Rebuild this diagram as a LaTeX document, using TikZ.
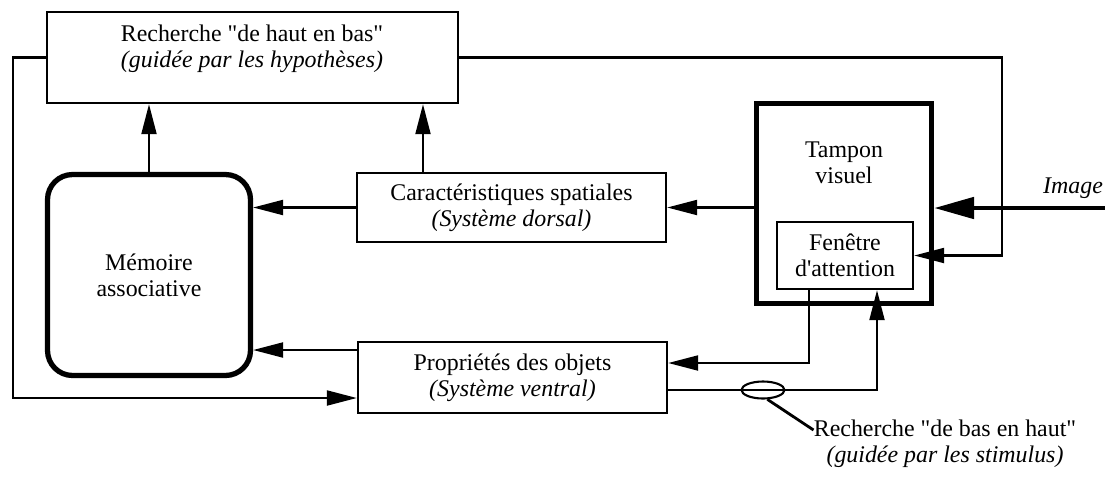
\documentclass[tikz,border=0pt]{standalone}
\usepackage{fontspec}
\setmainfont{Liberation Serif}
\usetikzlibrary{arrows.meta,calc,shapes.geometric}
\tikzset{
  box/.style={draw, line width=1.4pt, inner sep=0pt, align=center},
  bigbox/.style={draw, line width=3pt, inner sep=0pt, align=center},
  arr/.style={line width=1.2pt, -{Triangle[length=0.6cm,width=0.3cm]}},
  bigarr/.style={line width=2.8pt, -{Triangle[length=0.8cm,width=0.42cm]}},
  thin/.style={line width=1.2pt},
}
\begin{document}
\begin{tikzpicture}[x=0.02cm, y=-0.02cm, font=\fontsize{13.6}{14.8}\selectfont]
\useasboundingbox (0,0) rectangle (1105,481);
\node[box, minimum width=8.22cm, minimum height=1.82cm] (haut) at (252.5,57.5) {};
\node[align=center] (hautlbl) at (252,49) {Recherche \textquotedbl de haut en bas\textquotedbl\\\textit{(guidée par les hypothèses)}};
\node[bigbox, rounded corners=0.5cm, minimum width=4.06cm, minimum height=4.02cm] (memoire) at (149,275) {Mémoire\\associative};
\node[box, minimum width=6.18cm, minimum height=1.38cm] (carac) at (511.5,207.5) {Caractéristiques spatiales\\\textit{(Système dorsal)}};
\node[box, minimum width=6.18cm, minimum height=1.42cm] (prop) at (512.5,377.5) {Propriétés des objets\\\textit{(Système ventral)}};
\node[bigbox, minimum width=3.5cm, minimum height=4cm] (tampon) at (844,203.5) {};
\node[align=center] (tamponlbl) at (844,163) {Tampon\\visuel};
\node[box, minimum width=2.72cm, minimum height=1.34cm] (fenetre) at (845,255.5) {Fenêtre\\d\textquotesingle attention};
\node (imglbl) at (1073,188) {\textit{Image}};
\coordinate (imgin) at (1105,208);
\coordinate (gauche) at (13,200);
\coordinate (droite) at (1002,150);
\node[draw, thin, ellipse, minimum width=0.86cm, minimum height=0.34cm, inner sep=0pt] (loupe) at (763,390) {};
\node[align=center, inner sep=0pt] (bas) at (945,444) {Recherche \textquotedbl de bas en haut\textquotedbl\\\textit{(guidée par les stimulus)}};
\draw[arr] (memoire.north) -- (memoire.north |- haut.south);
\draw[arr] ($(carac.north)+(-88.5,0)$) coordinate (caracup) -- (caracup |- haut.south);
\draw[arr] (carac.west) -- (carac.west -| memoire.east);
\draw[arr] (tampon.west |- carac.east) -- (carac.east);
\draw[arr] ($(prop.west)+(0,-27.5)$) coordinate (propup) -- (propup -| memoire.east);
\draw[arr] (haut.west) -| (gauche) |- ($(prop.west)+(0,20.5)$);
\draw[arr] (haut.east) -| (droite) |- (fenetre.east);
\draw[arr] ($(fenetre.south)+(-36,0)$) |- ($(prop.east)+(0,-14.5)$);
\draw[arr] ($(prop.east)+(0,12.5)$) -| ($(fenetre.south)+(32,0)$);
\draw[bigarr] (imgin) -- (imgin -| tampon.east);
\draw[line width=1.6pt] (loupe.-65) -- ($(bas.west)+(0,-14)$);
\end{tikzpicture}
\end{document}
